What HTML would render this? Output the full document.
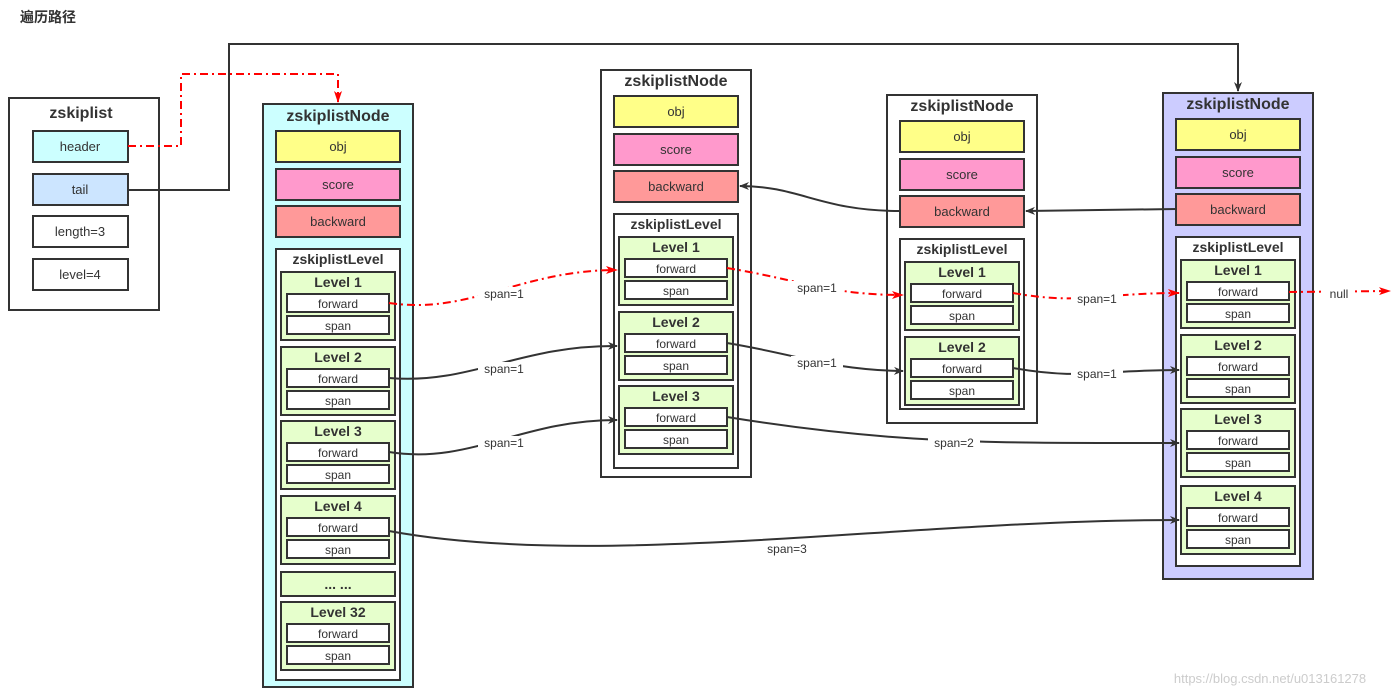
<!DOCTYPE html>
<html><head><meta charset="utf-8"><style>
html,body{margin:0;padding:0;background:#fff;width:1397px;height:696px;overflow:hidden}
svg{display:block}
text{font-family:"Liberation Sans","Noto Sans CJK SC",sans-serif;fill:#333;text-anchor:middle}
.t{font-weight:bold;font-size:16px}
.lt{font-weight:bold;font-size:14px}
.s{font-size:12px}
.b{stroke:#333;stroke-width:2}
</style></head><body>
<svg width="1397" height="696" viewBox="0 0 1397 696">
<defs>
<marker id="ab" markerWidth="10" markerHeight="10" refX="9" refY="5" orient="auto" markerUnits="userSpaceOnUse"><path d="M0,1 L10,5 L0,9 L3,5 z" fill="#333"/></marker>
<marker id="ar" markerWidth="12" markerHeight="10" refX="11" refY="5" orient="auto" markerUnits="userSpaceOnUse"><path d="M0,1 L12,5 L0,9 L3,5 z" fill="#f00"/></marker>
<g id="lv">
<rect x="0" y="0" width="114" height="68" fill="#e6ffcc" class="b"/>
<rect x="6" y="22" width="102" height="18" fill="#fff" class="b"/>
<text x="57" y="36" class="s">forward</text>
<rect x="6" y="44" width="102" height="18" fill="#fff" class="b"/>
<text x="57" y="58" class="s">span</text>
</g>
<g id="hd">
<rect x="0" y="0" width="124" height="31" fill="#ffff88" class="b"/><text x="62" y="20" class="s" style="font-size:13px">obj</text>
<rect x="0" y="38" width="124" height="31" fill="#ff99cc" class="b"/><text x="62" y="58" class="s" style="font-size:13px">score</text>
<rect x="0" y="75" width="124" height="31" fill="#ff9999" class="b"/><text x="62" y="95" class="s" style="font-size:13px">backward</text>
</g>
</defs>
<text x="48" y="22" style="font-size:14px;font-weight:bold">遍历路径</text>

<!-- zskiplist -->
<rect x="9" y="98" width="150" height="212" fill="#fff" class="b"/>
<text x="81" y="118" class="t">zskiplist</text>
<rect x="33" y="131" width="95" height="31" fill="#ccffff" class="b"/><text x="80" y="151" class="s" style="font-size:13px">header</text>
<rect x="33" y="174" width="95" height="31" fill="#cce5ff" class="b"/><text x="80" y="194" class="s" style="font-size:13px">tail</text>
<rect x="33" y="216" width="95" height="31" fill="#fff" class="b"/><text x="80" y="236" class="s" style="font-size:13px">length=3</text>
<rect x="33" y="259" width="95" height="31" fill="#fff" class="b"/><text x="80" y="279" class="s" style="font-size:13px">level=4</text>

<!-- node1 -->
<rect x="263" y="104" width="150" height="583" fill="#ccffff" class="b"/>
<text x="338" y="121" class="t">zskiplistNode</text>
<use href="#hd" x="276" y="131"/>
<rect x="276" y="249" width="124" height="431" fill="#fff" class="b"/>
<text x="338" y="264" class="lt">zskiplistLevel</text>
<use href="#lv" x="281" y="272"/><text x="338" y="287" class="lt">Level 1</text>
<use href="#lv" x="281" y="347"/><text x="338" y="362" class="lt">Level 2</text>
<use href="#lv" x="281" y="421"/><text x="338" y="436" class="lt">Level 3</text>
<use href="#lv" x="281" y="496"/><text x="338" y="511" class="lt">Level 4</text>
<rect x="281" y="572" width="114" height="24" fill="#e6ffcc" class="b"/><text x="338" y="589" class="lt">... ...</text>
<use href="#lv" x="281" y="602"/><text x="338" y="617" class="lt">Level 32</text>

<!-- node2 -->
<rect x="601" y="70" width="150" height="407" fill="#fff" class="b"/>
<text x="676" y="86" class="t">zskiplistNode</text>
<use href="#hd" x="614" y="96"/>
<rect x="614" y="214" width="124" height="254" fill="#fff" class="b"/>
<text x="676" y="229" class="lt">zskiplistLevel</text>
<use href="#lv" x="619" y="237"/><text x="676" y="252" class="lt">Level 1</text>
<use href="#lv" x="619" y="312"/><text x="676" y="327" class="lt">Level 2</text>
<use href="#lv" x="619" y="386"/><text x="676" y="401" class="lt">Level 3</text>

<!-- node3 -->
<rect x="887" y="95" width="150" height="328" fill="#fff" class="b"/>
<text x="962" y="111" class="t">zskiplistNode</text>
<use href="#hd" x="900" y="121"/>
<rect x="900" y="239" width="124" height="170" fill="#fff" class="b"/>
<text x="962" y="254" class="lt">zskiplistLevel</text>
<use href="#lv" x="905" y="262"/><text x="962" y="277" class="lt">Level 1</text>
<use href="#lv" x="905" y="337"/><text x="962" y="352" class="lt">Level 2</text>

<!-- node4 -->
<rect x="1163" y="93" width="150" height="486" fill="#ccccff" class="b"/>
<text x="1238" y="109" class="t">zskiplistNode</text>
<use href="#hd" x="1176" y="119"/>
<rect x="1176" y="237" width="124" height="329" fill="#fff" class="b"/>
<text x="1238" y="252" class="lt">zskiplistLevel</text>
<use href="#lv" x="1181" y="260"/><text x="1238" y="275" class="lt">Level 1</text>
<use href="#lv" x="1181" y="335"/><text x="1238" y="350" class="lt">Level 2</text>
<use href="#lv" x="1181" y="409"/><text x="1238" y="424" class="lt">Level 3</text>
<use href="#lv" x="1181" y="486"/><text x="1238" y="501" class="lt">Level 4</text>

<!-- connectors -->
<g fill="none" stroke="#333" stroke-width="2">
<path d="M128,190 H229 V44 H1238 V91" marker-end="url(#ab)"/>
<path d="M389,378 C470,385 520,345 617,346" marker-end="url(#ab)"/>
<path d="M389,452 C470,465 520,420 617,420" marker-end="url(#ab)"/>
<path d="M389,531 C600,570 900,520 1179,520" marker-end="url(#ab)"/>
<path d="M727,343 C800,355 830,370 903,371" marker-end="url(#ab)"/>
<path d="M727,417 C900,445 1000,443 1179,443" marker-end="url(#ab)"/>
<path d="M1013,368 C1080,380 1100,370 1179,370" marker-end="url(#ab)"/>
<path d="M900,211 C820,211 800,186 740,186" marker-end="url(#ab)"/>
<path d="M1176,209 L1026,211" marker-end="url(#ab)"/>
</g>
<g fill="none" stroke="#f00" stroke-width="2" stroke-dasharray="8,4,2,4">
<path d="M128,146 H181 V74 H338 V102" marker-end="url(#ar)"/>
<path d="M389,303 C470,315 520,270 617,270" marker-end="url(#ar)"/>
<path d="M727,268 C800,280 830,295 903,295" marker-end="url(#ar)"/>
<path d="M1013,293 C1080,305 1100,293 1179,293" marker-end="url(#ar)"/>
<path d="M1289,292 L1390,291" marker-end="url(#ar)"/>
</g>
<g class="s">
<rect x="478" y="287" width="52" height="14" fill="#fff"/><text x="504" y="298" class="s">span=1</text>
<rect x="478" y="362" width="52" height="14" fill="#fff"/><text x="504" y="373" class="s">span=1</text>
<rect x="478" y="436" width="52" height="14" fill="#fff"/><text x="504" y="447" class="s">span=1</text>
<rect x="791" y="281" width="52" height="14" fill="#fff"/><text x="817" y="292" class="s">span=1</text>
<rect x="791" y="356" width="52" height="14" fill="#fff"/><text x="817" y="367" class="s">span=1</text>
<rect x="1071" y="292" width="52" height="14" fill="#fff"/><text x="1097" y="303" class="s">span=1</text>
<rect x="1071" y="367" width="52" height="14" fill="#fff"/><text x="1097" y="378" class="s">span=1</text>
<rect x="928" y="436" width="52" height="14" fill="#fff"/><text x="954" y="447" class="s">span=2</text>
<rect x="761" y="542" width="52" height="14" fill="#fff"/><text x="787" y="553" class="s">span=3</text>
<rect x="1325" y="287" width="28" height="14" fill="#fff"/><text x="1339" y="298" class="s">null</text>
</g>
<text x="1270" y="683" style="font-size:13px;fill:#ccc">https://blog.csdn.net/u013161278</text>
</svg>
</body></html>
